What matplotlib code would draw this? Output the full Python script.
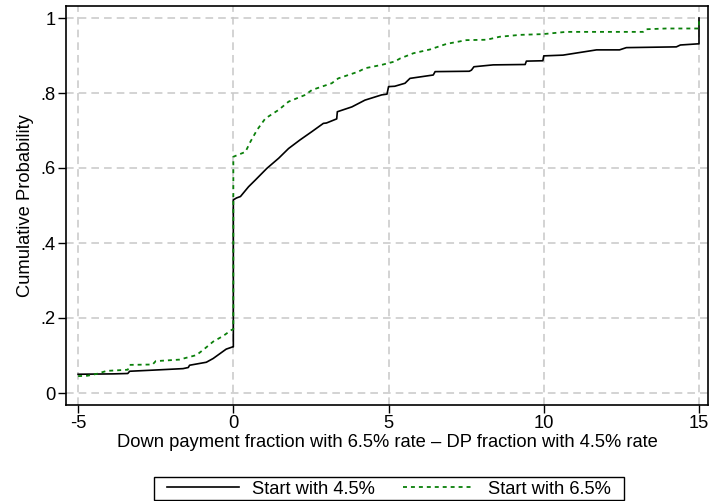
import matplotlib
matplotlib.use("Agg")
import matplotlib.pyplot as plt
from matplotlib.patches import Rectangle

plt.rcParams["font.family"] = ["Liberation Sans", "DejaVu Sans"]
plt.rcParams["axes.unicode_minus"] = False

x_45 = [-5.0, -3.87, -3.4, -3.34, -2.58, -1.62, -1.45, -1.41, -0.87, -0.65, -0.23,
        -0.02, 0.0, 0.0, 0.1, 0.23, 0.49, 0.71, 1.08, 1.46, 1.78, 2.15, 2.53, 2.9,
        3.0, 3.33, 3.35, 3.82, 4.24, 4.78, 4.95, 5.0, 5.2, 5.53, 5.69, 6.44, 6.5,
        7.6, 7.67, 7.75, 8.37, 9.4, 9.44, 9.97, 10.0, 10.62, 11.16, 11.7, 12.44,
        12.66, 14.27, 14.4, 14.95, 15.0, 15.0]
cdf_45 = [0.050, 0.051, 0.052, 0.058, 0.061, 0.065, 0.068, 0.074, 0.082, 0.092, 0.117,
          0.123, 0.123, 0.515, 0.520, 0.524, 0.550, 0.568, 0.599, 0.626, 0.652, 0.675, 0.697, 0.719,
          0.720, 0.731, 0.750, 0.763, 0.781, 0.795, 0.797, 0.817, 0.818, 0.826, 0.839, 0.848, 0.857,
          0.858, 0.861, 0.870, 0.875, 0.876, 0.885, 0.886, 0.899, 0.901, 0.908, 0.915, 0.915,
          0.921, 0.923, 0.928, 0.931, 0.931, 1.0]

x_65 = [-5.0, -4.7, -4.4, -4.08, -3.4, -3.34, -2.6, -2.5, -1.74, -1.19, -0.97,
        -0.65, -0.33, -0.06, 0.0, 0.0, 0.39, 0.55, 0.76, 1.03, 1.46, 1.78, 2.32,
        2.53, 3.17, 3.38, 4.03, 4.24, 4.78, 5.2, 5.37, 5.8, 6.33, 6.87, 7.51, 8.16,
        8.58, 9.23, 9.97, 10.72, 13.2, 13.29, 13.94, 15.0, 15.0]
cdf_65 = [0.045, 0.046, 0.051, 0.059, 0.062, 0.075, 0.076, 0.085, 0.089, 0.101, 0.115,
          0.137, 0.152, 0.168, 0.170, 0.630, 0.643, 0.670, 0.701, 0.732, 0.755, 0.777, 0.795,
          0.808, 0.826, 0.839, 0.857, 0.866, 0.875, 0.884, 0.892, 0.906, 0.916, 0.931, 0.941, 0.942,
          0.950, 0.955, 0.957, 0.963, 0.963, 0.970, 0.972, 0.972, 1.0]

xticks = [-5, 0, 5, 10, 15]
yticks = [0, 0.2, 0.4, 0.6, 0.8, 1.0]
ytick_labels = ["0", ".2", ".4", ".6", ".8", "1"]

fig = plt.figure(figsize=(7.09, 5.01), dpi=100)
ax = fig.add_axes([66 / 709, 96 / 501, 642 / 709, 399 / 501])

ax.grid(True, color="#c8c8c8", linestyle=(0, (5, 3.3)), linewidth=1.1)
ax.set_axisbelow(True)

ax.plot(x_45, cdf_45, color="black", linewidth=1.2, label="Start with 4.5%")
ax.plot(x_65, cdf_65, color="#0a800a", linewidth=1.3,
        linestyle=(0, (2.2, 2.2)), label="Start with 6.5%")

ax.set_xlim(-5.39, 15.29)
ax.set_ylim(-0.032, 1.032)
ax.set_xticks(xticks)
ax.set_yticks(yticks)
ax.set_yticklabels(ytick_labels)
ax.tick_params(direction="out", length=5.5, width=1, pad=2, labelsize=13.2, colors="black")
for s in ax.spines.values():
    s.set_linewidth(1.2)

ax.set_xlabel("Down payment fraction with 6.5% rate \u2013 DP fraction with 4.5% rate",
              fontsize=13.2, labelpad=1)
ax.set_ylabel("Cumulative Probability", fontsize=13.2, labelpad=5)

# legend box like Stata's
fig.patches.append(Rectangle((154 / 709, 1 / 501), 470 / 709, 23 / 501,
                             transform=fig.transFigure, fill=False,
                             edgecolor="black", linewidth=1.0))
fig.legend(loc="center", bbox_to_anchor=(389 / 709, 1 - 489 / 501), ncol=2,
           frameon=False, fontsize=13.2, handlelength=3.9, handletextpad=0.75,
           columnspacing=1.5, borderpad=0.2)

fig.savefig("out.png", dpi=100)
